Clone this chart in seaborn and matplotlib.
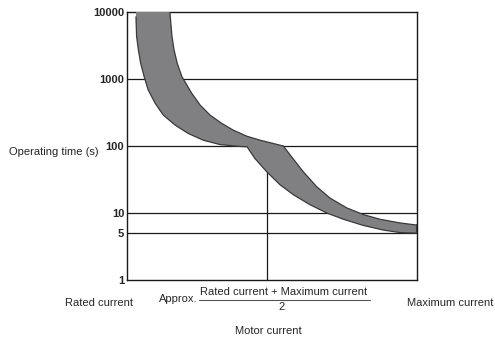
import matplotlib
matplotlib.use("Agg")
import matplotlib.pyplot as plt
from matplotlib.lines import Line2D
import seaborn as sns
import pandas as pd

# motor current as fraction of the way from rated to maximum current
upper_x = [0.148, 0.151, 0.155, 0.162, 0.173, 0.189, 0.223, 0.252, 0.286, 0.327,
           0.367, 0.413, 0.459, 0.539, 0.572, 0.608, 0.654, 0.700, 0.758, 0.815,
           0.872, 0.941, 1.0]
upper_t = [10000, 6930, 4360, 2750, 1730, 1090, 614, 409, 290, 217,
           172, 140, 122, 100, 65.1, 41.2, 24.7, 16.7, 11.9, 9.47,
           8.07, 7.11, 6.6]

lower_x = [0.031, 0.031, 0.033, 0.039, 0.047, 0.059, 0.073, 0.097, 0.125, 0.166,
           0.211, 0.263, 0.321, 0.390, 0.414, 0.441, 0.482, 0.528, 0.574, 0.631,
           0.689, 0.746, 0.815, 0.884, 0.941, 1.0]
lower_t = [10000, 6930, 4360, 2750, 1730, 1090, 688, 435, 290, 205,
           154, 122, 105, 98.5, 97.3, 65.1, 41.2, 26.3, 18.7, 13.3,
           10, 8.07, 6.52, 5.56, 5.11, 5.0]

y_ticks = [1, 5, 10, 100, 1000, 10000]
grid_levels = [5, 10, 100, 1000]
mid_x = 0.482  # approx. (rated + maximum) / 2

sns.set_style("white")
plt.rcParams["font.family"] = ["Liberation Sans", "DejaVu Sans"]

fig = plt.figure(figsize=(4.95, 3.38), dpi=100)
ax = fig.add_axes([127 / 495, 58 / 338, 290 / 495, 268 / 338])

df_up = pd.DataFrame({"x": upper_x, "t": upper_t})
df_lo = pd.DataFrame({"x": lower_x, "t": lower_t})

# band between the two curves
poly_x = upper_x + lower_x[::-1]
poly_t = upper_t + lower_t[::-1]
ax.fill(poly_x, poly_t, facecolor="#808083", edgecolor="none", zorder=3)
sns.lineplot(data=df_up, x="x", y="t", ax=ax, color="#3a3a3a", lw=0.9,
             sort=False, zorder=4)
sns.lineplot(data=df_lo, x="x", y="t", ax=ax, color="#3a3a3a", lw=0.9,
             sort=False, zorder=4)
ax.plot([1.0, 1.0], [lower_t[-1], upper_t[-1]], color="#3a3a3a", lw=1.5, zorder=4)

for lvl in grid_levels:
    ax.axhline(lvl, color="#1a1a1a", lw=0.9, zorder=2)
ax.plot([mid_x, mid_x], [1, 100], color="#1a1a1a", lw=0.9, zorder=2)

ax.set_yscale("log")
ax.set_ylim(1, 10000)
ax.set_xlim(0, 1)
ax.set_yticks(y_ticks)
ax.set_yticklabels([str(v) for v in y_ticks], fontsize=8, fontweight="bold")
ax.minorticks_off()
ax.set_xticks([])
ax.tick_params(axis="y", length=0, pad=2)
ax.set_xlabel("")
ax.set_ylabel("")
for s in ax.spines.values():
    s.set_color("#1a1a1a")
    s.set_linewidth(1.0)
    s.set_visible(True)


def fx(px):
    return px / 495


def fy(py):
    return 1 - py / 338


fs = 8
fig.text(fx(9), fy(152), "Operating time (s)", ha="left", va="center", fontsize=fs)
fig.text(fx(99), fy(303), "Rated current", ha="center", va="center", fontsize=fs)
fig.text(fx(197), fy(299), "Approx.", ha="right", va="center", fontsize=fs)
fig.text(fx(284), fy(292), "Rated current + Maximum current", ha="center",
         va="center", fontsize=fs)
fig.add_artist(Line2D([fx(199), fx(370)], [fy(300), fy(300)], color="#555555", lw=0.8))
fig.text(fx(282), fy(307.5), "2", ha="center", va="center", fontsize=fs)
fig.text(fx(268), fy(331), "Motor current", ha="center", va="center", fontsize=fs)
fig.text(fx(450), fy(303), "Maximum current", ha="center", va="center", fontsize=fs)

fig.savefig("out.png", dpi=100, facecolor="white")
